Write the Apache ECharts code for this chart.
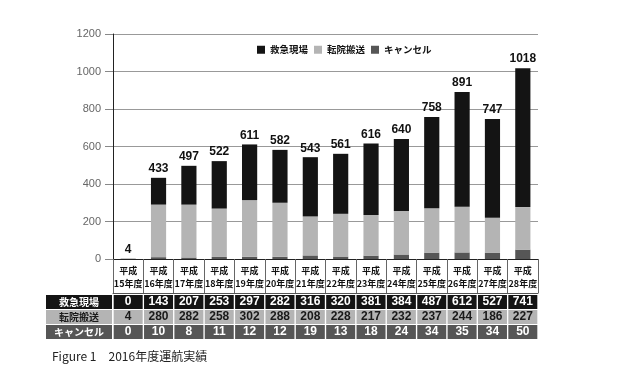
<!DOCTYPE html>
<html><head><meta charset="utf-8">
<script src="https://cdn.jsdelivr.net/npm/echarts@6/dist/echarts.min.js"></script>
<style>html,body{margin:0;padding:0;background:#fff}#c{width:624px;height:385px}</style>
</head><body><div id="c"></div>
<script>
const categories = ['平成15年度','平成16年度','平成17年度','平成18年度','平成19年度','平成20年度','平成21年度','平成22年度','平成23年度','平成24年度','平成25年度','平成26年度','平成27年度','平成28年度'];
const kyukyu = [0,143,207,253,297,282,316,320,381,384,487,612,527,741];
const tenin  = [4,280,282,258,302,288,208,228,217,232,237,244,186,227];
const cancel = [0,10,8,11,12,12,19,13,18,24,34,35,34,50];
const yTicks = {min:0, max:1200, interval:200};
const seriesNames = ['救急現場','転院搬送','キャンセル'];
const caption = 'Figure 1　2016年度運航実績';

const totals = categories.map((_, i) => kyukyu[i] + tenin[i] + cancel[i]);
const JP = '"Noto Sans CJK JP", sans-serif';
const NUM = '"Liberation Sans", "DejaVu Sans", sans-serif';

const rows = [
  {name: seriesNames[0], vals: kyukyu, bg: '#141414', fg: '#ffffff', off: 36},
  {name: seriesNames[1], vals: tenin, bg: '#b4b4b4', fg: '#1a1a1a', off: 51},
  {name: seriesNames[2], vals: cancel, bg: '#565656', fg: '#ffffff', off: 66}
];

const xAxes = [{
  type: 'category', gridIndex: 0, data: categories, position: 'bottom',
  axisLine: {lineStyle: {color: '#222', width: 1}},
  axisTick: {show: true, length: 34, lineStyle: {color: '#666'}},
  axisLabel: {interval: 0, margin: 5, fontSize: 9, fontWeight: 'bold', lineHeight: 13, color: '#111', fontFamily: JP,
    formatter: v => v.slice(0, 2) + '\n' + v.slice(2)}
}, {
  type: 'category', gridIndex: 0, data: categories, position: 'bottom', offset: 34,
  axisLine: {show: true, lineStyle: {color: '#555'}}, axisTick: {show: false}, axisLabel: {show: false}
}];
rows.forEach(r => {
  xAxes.push({
    type: 'category', gridIndex: 0, data: categories, position: 'bottom', offset: r.off,
    axisLine: {show: false}, axisTick: {show: false},
    axisLabel: {interval: 0, margin: 0, color: r.fg, backgroundColor: r.bg, width: 29, height: 14, lineHeight: 14,
      align: 'center', fontSize: 12, fontWeight: 'bold', fontFamily: NUM,
      formatter: (v, i) => String(r.vals[i])}
  });
});

const graphics = [];
rows.forEach(r => {
  graphics.push({type: 'rect', left: 46, top: 259 + r.off, shape: {width: 66, height: 14}, style: {fill: r.bg}});
  graphics.push({type: 'text', x: 79, y: 259 + r.off + 7, style: {text: r.name, fill: r.fg, font: 'bold 10px ' + JP, textAlign: 'center', textVerticalAlign: 'middle'}});
});
graphics.push({type: 'text', left: 52, top: 350, style: {text: caption, fill: '#222', font: '12px ' + JP}});

const option = {
  animation: false,
  backgroundColor: '#fff',
  grid: {left: 113, right: 86, top: 34, bottom: 126, containLabel: false},
  legend: {
    data: seriesNames, left: 252, top: 40, icon: 'rect', itemWidth: 8, itemHeight: 8, itemGap: 6,
    textStyle: {fontSize: 9.5, fontWeight: 'bold', color: '#111', fontFamily: JP}
  },
  xAxis: xAxes,
  yAxis: {
    type: 'value', min: yTicks.min, max: yTicks.max, interval: yTicks.interval,
    axisLine: {show: true, lineStyle: {color: '#222'}},
    axisTick: {show: true, length: 8, lineStyle: {color: '#888'}},
    axisLabel: {margin: 12, fontSize: 11, color: '#666', fontFamily: NUM, formatter: v => String(v)},
    splitLine: {lineStyle: {color: '#999', width: 1}}
  },
  graphic: graphics,
  series: [
    {name: seriesNames[2], type: 'bar', stack: 'a', data: cancel, barWidth: '50%', itemStyle: {color: '#565656'}},
    {name: seriesNames[1], type: 'bar', stack: 'a', data: tenin, barWidth: '50%', itemStyle: {color: '#b4b4b4'}},
    {name: seriesNames[0], type: 'bar', stack: 'a', data: kyukyu, barWidth: '50%', itemStyle: {color: '#141414'},
      label: {show: true, position: 'top', distance: 3, fontSize: 12, fontWeight: 'bold', color: '#111', fontFamily: NUM,
        formatter: p => String(totals[p.dataIndex])}}
  ]
};
const chart = echarts.init(document.getElementById('c'), null, {renderer: 'canvas'});
chart.setOption(option);
</script></body></html>
